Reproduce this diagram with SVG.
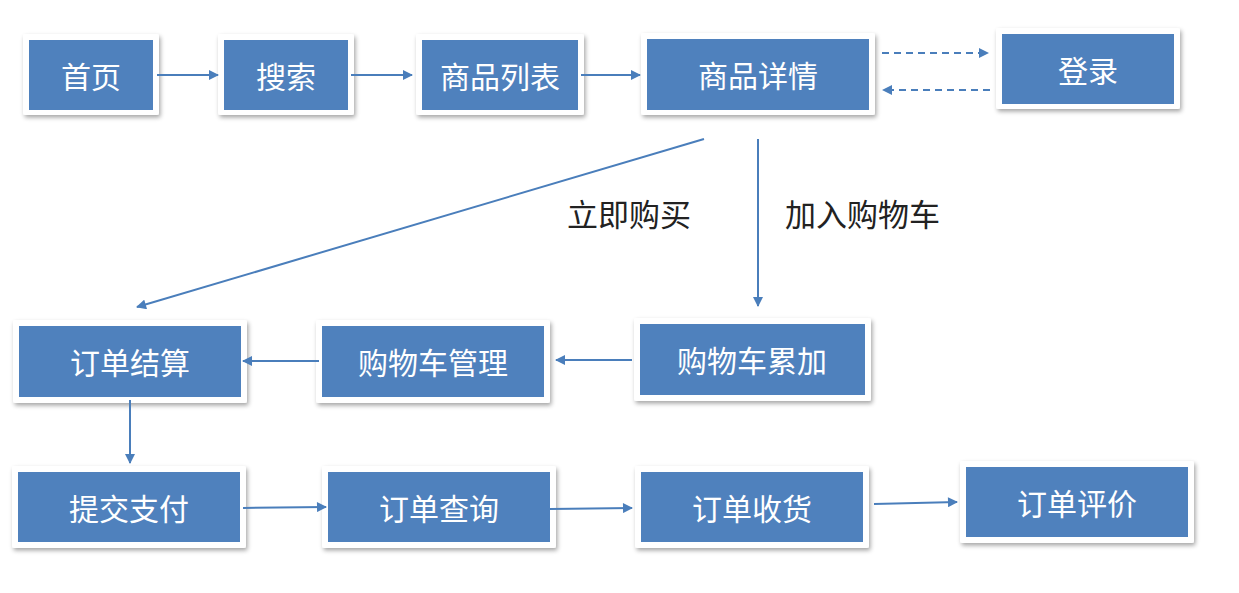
<svg xmlns="http://www.w3.org/2000/svg" width="1239" height="593" viewBox="0 0 1239 593">
<style>
.outer{fill:#fff;filter:url(#sh)}
.inner{fill:#4F81BD}
.t{font-family:"Noto Sans CJK SC","Liberation Sans",sans-serif;font-size:30px;fill:#fff;text-anchor:middle;dominant-baseline:central}
.lbl{font-family:"Noto Sans CJK SC","Liberation Sans",sans-serif;font-size:31px;fill:#222;dominant-baseline:central}
.c{stroke:#4A7EBB;stroke-width:2;fill:none;marker-end:url(#ah)}
.d{stroke-dasharray:7,5}
</style>
<defs>
<filter id="sh" x="-10%" y="-10%" width="125%" height="135%">
<feDropShadow dx="1.5" dy="2.5" stdDeviation="2" flood-color="#000" flood-opacity="0.35"/>
</filter>
<marker id="ah" viewBox="0 0 10 10" refX="9" refY="5" markerWidth="11" markerHeight="10" markerUnits="userSpaceOnUse" orient="auto">
<path d="M0,0 L10,5 L0,10 z" fill="#4A7EBB"/>
</marker>
</defs>
<g id="n1"><rect class="outer" x="23" y="34" width="136" height="81" rx="2"/><rect class="inner" x="29" y="40" width="124" height="70"/><text class="t" x="91" y="75">首页</text></g>
<g id="n2"><rect class="outer" x="218" y="34" width="136" height="81" rx="2"/><rect class="inner" x="224" y="40" width="124" height="70"/><text class="t" x="286" y="75">搜索</text></g>
<g id="n3"><rect class="outer" x="416" y="34" width="168" height="81" rx="2"/><rect class="inner" x="422" y="40" width="156" height="70"/><text class="t" x="500" y="75">商品列表</text></g>
<g id="n4"><rect class="outer" x="641" y="33" width="234" height="82" rx="2"/><rect class="inner" x="647" y="39" width="222" height="71"/><text class="t" x="758" y="74">商品详情</text></g>
<g id="n5"><rect class="outer" x="996" y="28" width="184" height="81" rx="2"/><rect class="inner" x="1002" y="34" width="172" height="70"/><text class="t" x="1088" y="69">登录</text></g>
<g id="n6"><rect class="outer" x="13" y="320" width="234" height="83" rx="2"/><rect class="inner" x="19" y="326" width="222" height="71"/><text class="t" x="130" y="361">订单结算</text></g>
<g id="n7"><rect class="outer" x="316" y="320" width="234" height="83" rx="2"/><rect class="inner" x="322" y="326" width="222" height="71"/><text class="t" x="433" y="361">购物车管理</text></g>
<g id="n8"><rect class="outer" x="634" y="318" width="237" height="83" rx="2"/><rect class="inner" x="640" y="324" width="225" height="71"/><text class="t" x="752" y="359">购物车累加</text></g>
<g id="n9"><rect class="outer" x="12" y="466" width="234" height="82" rx="2"/><rect class="inner" x="18" y="472" width="222" height="70"/><text class="t" x="129" y="507">提交支付</text></g>
<g id="n10"><rect class="outer" x="322" y="466" width="234" height="82" rx="2"/><rect class="inner" x="328" y="472" width="222" height="70"/><text class="t" x="439" y="507">订单查询</text></g>
<g id="n11"><rect class="outer" x="635" y="466" width="234" height="82" rx="2"/><rect class="inner" x="641" y="472" width="222" height="70"/><text class="t" x="752" y="507">订单收货</text></g>
<g id="n12"><rect class="outer" x="960" y="461" width="234" height="82" rx="2"/><rect class="inner" x="966" y="467" width="222" height="70"/><text class="t" x="1077" y="502">订单评价</text></g>
<g id="connectors">
<line class="c" x1="157" y1="75" x2="218" y2="75"/>
<line class="c" x1="351" y1="75" x2="412" y2="75"/>
<line class="c" x1="581" y1="75" x2="640" y2="75"/>
<line class="c d" x1="882" y1="53" x2="988" y2="53"/>
<line class="c d" x1="990" y1="90" x2="883" y2="90"/>
<line class="c" x1="704" y1="139" x2="137" y2="307"/>
<line class="c" x1="758" y1="139" x2="758" y2="306"/>
<line class="c" x1="632" y1="360" x2="556" y2="360"/>
<line class="c" x1="319" y1="361" x2="243" y2="361"/>
<line class="c" x1="130" y1="400" x2="130" y2="463"/>
<line class="c" x1="243" y1="508" x2="326" y2="507"/>
<line class="c" x1="550" y1="509" x2="632" y2="508"/>
<line class="c" x1="874" y1="504" x2="957" y2="502"/>
</g>
<text class="lbl" x="567" y="212">立即购买</text>
<text class="lbl" x="785" y="212">加入购物车</text>
</svg>
